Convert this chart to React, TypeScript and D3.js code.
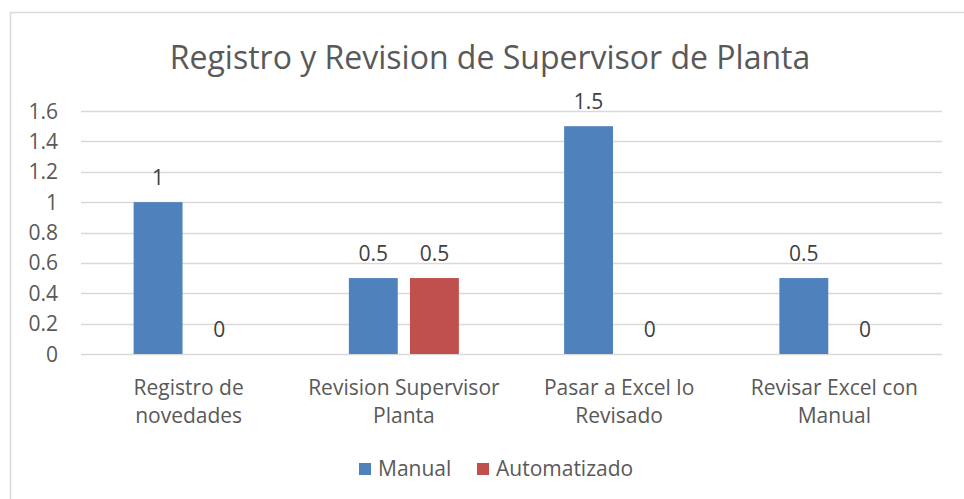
import * as d3 from "d3";
import { useEffect, useRef } from "react";

const categories = [
  ["Registro de", "novedades"],
  ["Revision Supervisor", "Planta"],
  ["Pasar a Excel lo", "Revisado"],
  ["Revisar Excel con", "Manual"],
];
const seriesNames = ["Manual", "Automatizado"];
const manualValues = [1, 0.5, 1.5, 0.5];
const autoValues = [0, 0.5, 0, 0];
const yTicks = [0, 0.2, 0.4, 0.6, 0.8, 1, 1.2, 1.4, 1.6];
const colors = ["#4F81BD", "#C0504D"];

const W = 964;
const H = 499;
const FONT = "'Open Sans', sans-serif";
const TEXT = "#595959";

const App = () => {
  const ref = useRef<SVGSVGElement | null>(null);

  useEffect(() => {
    if (!ref.current) return;
    const svg = d3.select(ref.current);
    svg.selectAll("*").remove();

    const left = 81;
    const right = 942;
    const top = 111;
    const bottom = 354;

    // chart frame (cut off at right and bottom like the screenshot)
    svg
      .append("path")
      .attr("d", `M${W},12.5 H10.5 V${H}`)
      .attr("fill", "none")
      .attr("stroke", "#D9D9D9")
      .attr("stroke-width", 1.5);

    svg
      .append("text")
      .attr("x", 490)
      .attr("y", 69)
      .attr("text-anchor", "middle")
      .attr("font-family", FONT)
      .attr("font-size", 32)
      .attr("fill", TEXT)
      .text("Registro y Revision de Supervisor de Planta");

    const y = d3.scaleLinear().domain([0, 1.6]).range([bottom, top]);
    const x0 = d3
      .scaleBand<number>()
      .domain(categories.map((_, i) => i))
      .range([left, right]);
    const clusterW = 110;
    const x1 = d3
      .scaleBand<number>()
      .domain(seriesNames.map((_, i) => i))
      .range([0, clusterW])
      .paddingInner(0.2);

    // gridlines
    svg
      .append("g")
      .selectAll("line")
      .data(yTicks)
      .join("line")
      .attr("x1", left)
      .attr("x2", right)
      .attr("y1", (d) => Math.round(y(d)) + 0.5)
      .attr("y2", (d) => Math.round(y(d)) + 0.5)
      .attr("stroke", "#D9D9D9")
      .attr("stroke-width", 1.5);

    // y tick labels
    svg
      .append("g")
      .selectAll("text")
      .data(yTicks)
      .join("text")
      .attr("x", 58)
      .attr("y", (d) => y(d))
      .attr("dy", "0.36em")
      .attr("text-anchor", "end")
      .attr("font-family", FONT)
      .attr("font-size", 21)
      .attr("fill", TEXT)
      .text((d) => d3.format("")(d));

    const series = [manualValues, autoValues];
    series.forEach((vals, s) => {
      const g = svg.append("g");
      g.selectAll("rect")
        .data(vals)
        .join("rect")
        .attr("x", (_, i) => x0(i)! + x0.bandwidth() / 2 - clusterW / 2 + x1(s)!)
        .attr("y", (d) => y(d))
        .attr("width", x1.bandwidth())
        .attr("height", (d) => bottom - y(d))
        .attr("fill", colors[s]);
      g.selectAll("text")
        .data(vals)
        .join("text")
        .attr("x", (_, i) => x0(i)! + x0.bandwidth() / 2 - clusterW / 2 + x1(s)! + x1.bandwidth() / 2)
        .attr("y", (d) => y(d) - 17)
        .attr("text-anchor", "middle")
        .attr("font-family", FONT)
        .attr("font-size", 21)
        .attr("fill", "#404040")
        .text((d) => String(d));
    });

    // category labels
    const cat = svg
      .append("g")
      .selectAll("text")
      .data(categories)
      .join("text")
      .attr("text-anchor", "middle")
      .attr("font-family", FONT)
      .attr("font-size", 21)
      .attr("fill", TEXT);
    cat
      .selectAll("tspan")
      .data((d, i) => d.map((line) => ({ line, i })))
      .join("tspan")
      .attr("x", (d) => x0(d.i)! + x0.bandwidth() / 2)
      .attr("y", (_, j) => 395 + j * 28)
      .text((d) => d.line);

    // legend
    const legendItems = [
      { name: seriesNames[0], x: 359 },
      { name: seriesNames[1], x: 477 },
    ];
    const lg = svg.append("g");
    legendItems.forEach((it, i) => {
      lg.append("rect")
        .attr("x", it.x)
        .attr("y", 463)
        .attr("width", 12)
        .attr("height", 12)
        .attr("fill", colors[i]);
      lg.append("text")
        .attr("x", it.x + 19)
        .attr("y", 476)
        .attr("font-family", FONT)
        .attr("font-size", 21)
        .attr("fill", TEXT)
        .text(it.name);
    });
  }, []);

  return (
    <svg
      ref={ref}
      width={W}
      height={H}
      style={{ position: "absolute", left: 0, top: 0, background: "#fff" }}
    />
  );
};

export default App;
